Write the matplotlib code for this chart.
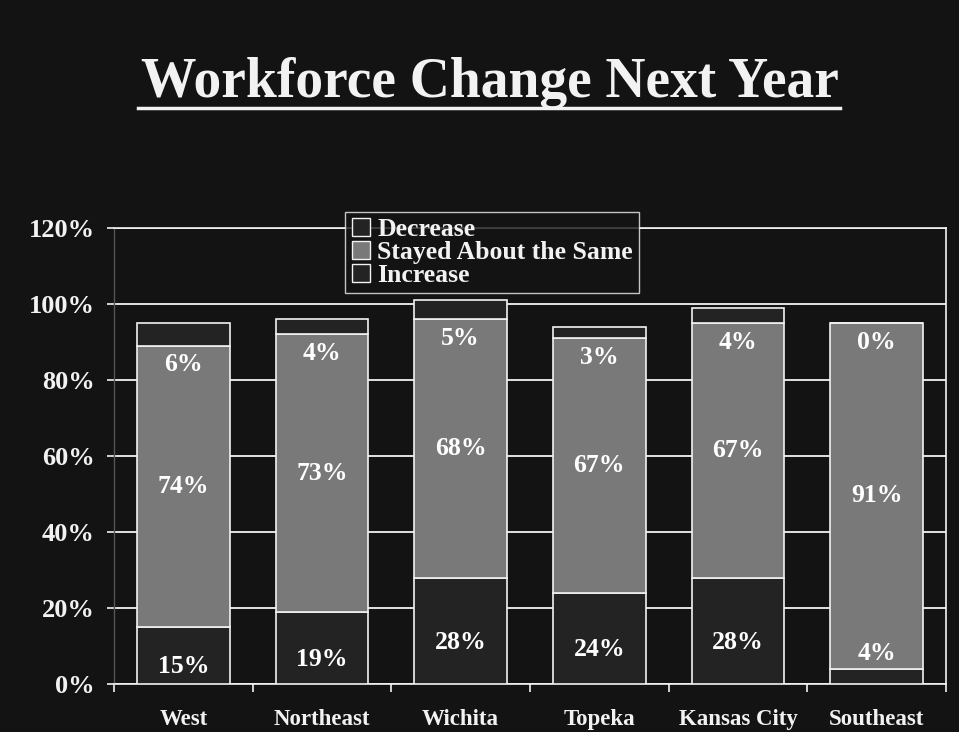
import matplotlib
matplotlib.use('Agg')
import matplotlib.pyplot as plt
from matplotlib.lines import Line2D
from matplotlib.patches import Patch
import numpy as np

plt.rcParams['font.family'] = ['Liberation Serif', 'DejaVu Serif']
plt.rcParams['font.weight'] = 'bold'

regions = ['West', 'Northeast', 'Wichita', 'Topeka', 'Kansas City', 'Southeast']
increase = [15, 19, 28, 24, 28, 4]
same = [74, 73, 68, 67, 67, 91]
decrease = [6, 4, 5, 3, 4, 0]
yticks = [0, 20, 40, 60, 80, 100, 120]

bg = '#131313'
dark = '#232323'
gray = '#797979'
white = '#f2f2f2'

fig = plt.figure(figsize=(9.59, 7.32), dpi=100, facecolor=bg)
ax = fig.add_axes([0.1189, 0.0656, 0.8675, 0.6229])
ax.set_facecolor(bg)

x = np.arange(len(regions))
inc = np.array(increase)
sam = np.array(same)
dec = np.array(decrease)
w = 0.67

ax.bar(x, inc, w, color=dark, edgecolor=white, linewidth=1.2, zorder=3)
ax.bar(x, sam, w, bottom=inc, color=gray, edgecolor=white, linewidth=1.2, zorder=3)
ax.bar(x, dec, w, bottom=inc + sam, color=dark, edgecolor=white, linewidth=1.2, zorder=3)

# value labels
lab = dict(ha='center', va='center', color='white', fontsize=18.5, fontweight='bold', zorder=5)
for i in range(len(regions)):
    yi = inc[i] + 4 if inc[i] < 8 else inc[i] / 2 - 3
    ax.text(x[i], yi, f'{inc[i]}%', **lab)
    ax.text(x[i], inc[i] + sam[i] / 2, f'{sam[i]}%', **lab)
    ax.text(x[i], inc[i] + sam[i] - 5, f'{dec[i]}%', **lab)

ax.set_xlim(-0.5, len(regions) - 0.5)
ax.set_ylim(0, 120)
ax.set_yticks(yticks)
ax.set_yticklabels([f'{v}%' for v in yticks])
ax.yaxis.grid(True, color=white, linewidth=1.3, zorder=0)
ax.set_axisbelow(True)

ax.set_xticks(x)
ax.set_xticklabels(regions)
ax.set_xticks(np.arange(-0.5, len(regions)), minor=True)
ax.tick_params(axis='x', which='major', length=0, pad=18, colors=white, labelsize=16.5)
ax.tick_params(axis='x', which='minor', length=6, width=1.2, color=white)
ax.tick_params(axis='y', length=5, width=1.2, color=white, labelcolor=white,
               labelsize=19, pad=9)

for s in ['top', 'right', 'bottom']:
    ax.spines[s].set_color(white)
    ax.spines[s].set_linewidth(1.2)
ax.spines['left'].set_color('#555555')
ax.spines['left'].set_linewidth(1.0)

handles = [Patch(facecolor=dark, edgecolor=white, label='Decrease'),
           Patch(facecolor=gray, edgecolor=white, label='Stayed About the Same'),
           Patch(facecolor=dark, edgecolor=white, label='Increase')]
leg = fig.legend(handles=handles, loc='upper left', bbox_to_anchor=(0.36, 0.711),
                 frameon=True, fancybox=False, facecolor=bg, edgecolor=white,
                 fontsize=18.5, labelspacing=0.0, handlelength=0.7, handleheight=0.7,
                 handletextpad=0.3, borderpad=0.25, borderaxespad=0)
leg.get_frame().set_linewidth(1.0)
for t in leg.get_texts():
    t.set_color(white)

fig.text(0.5105, 0.886, 'Workforce Change Next Year', ha='center', va='center',
         color=white, fontsize=40, fontweight='bold')
fig.add_artist(Line2D([138 / 959, 840 / 959], [1 - 108 / 732, 1 - 108 / 732],
                      color=white, linewidth=2.5))

fig.savefig('out.png', dpi=100, facecolor=bg)
